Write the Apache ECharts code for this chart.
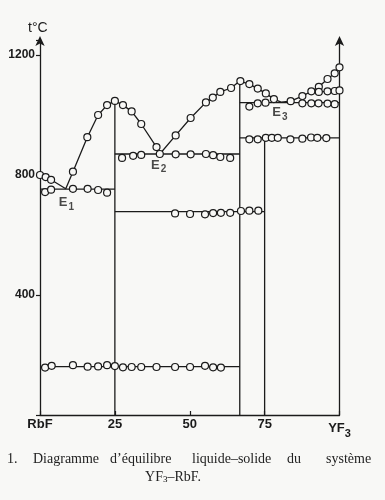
<!DOCTYPE html>
<html><head><meta charset="utf-8">
<script src="https://cdn.jsdelivr.net/npm/echarts@6/dist/echarts.min.js"></script>
<style>html,body{margin:0;padding:0;background:#f8f8f6}#c{width:385px;height:500px}</style>
</head><body><div id="c"></div>
<script>
// ---- data (x = mol % YF3, y = t °C) ----
const xTicks = [0, 25, 50, 75, 100];
const xTickLabels = ['RbF', '25', '50', '75', 'YF3'];
const yTickLabels = [400, 800, 1200];

// liquidus curve
const liquidusLine = [[0,800],[1.9,793],[3.7,784],[8.6,754],[11,811],[15.8,926],[19.4,1000],[22.4,1033],[25,1047],
  [27.7,1033],[30.6,1012],[33.8,970],[38.9,893],[40,870],[45.3,932],[50.3,990],[55.4,1042],[57.7,1058],[60.2,1077],
  [63.8,1090],[66.7,1113],[69.9,1103],[72.7,1088],[75.4,1072],[78.1,1053],[80.5,1043],[83.7,1046],[87.6,1063],
  [90.6,1079],[93.1,1094],[96,1120],[98.4,1139],[100,1159]];
const liquidusPts = [[0,800],[1.9,793],[3.7,784],[11,811],[15.8,926],[19.4,1000],[22.4,1033],[25,1047],[27.7,1033],
  [30.6,1012],[33.8,970],[38.9,893],[40,870],[45.3,932],[50.3,990],[55.4,1042],[57.7,1058],[60.2,1077],[63.8,1090],
  [66.9,1113],[69.9,1103],[72.7,1088],[75.4,1072],[78.1,1053],[83.7,1046],[87.6,1063],[90.6,1079],[93.1,1094],
  [96,1120],[98.4,1139],[100,1159]];
// upper branch near YF3
const branchLine = [[90.6,1079],[93.1,1077],[96,1079],[98.4,1080],[100,1082]];
const branchPts = [[93.1,1077],[96,1079],[98.4,1080],[100,1082]];

// horizontal isotherms: from x, to x, temperature
const isoFrom = [0, 25, 66.7, 66.7, 25, 0];
const isoTo   = [25, 66.7, 100, 100, 75, 66.7];
const isoT    = [753, 870, 1041, 924, 678, 161];
// vertical compound lines: x, top temperature
const vertX   = [25, 66.7, 75];
const vertTop = [1047, 1113, 924];

// thermal effects on isotherms
const pts753  = [[1.7,743],[3.7,751],[11,754],[15.9,754],[19.4,750],[22.4,741]];
const pts870  = [[27.4,857],[31.1,864],[33.8,867],[45.3,869],[50.3,869],[55.4,870],[57.8,866],[60.2,860],[63.5,857]];
const pts1041 = [[69.9,1028],[72.7,1039],[75.3,1041],[87.6,1039],[90.6,1039],[93,1039],[96,1038],[98.4,1036]];
const pts924  = [[69.9,919],[72.7,919],[75.4,924],[77.4,924],[79.4,924],[83.6,919],[87.6,921],[90.5,925],[92.6,924],[95.6,923]];
const pts678  = [[45.1,672],[50.1,670],[55.1,669],[57.8,673],[60.4,674],[63.5,674],[67.1,680],[69.9,681],[72.9,681]];
const pts161  = [[1.7,158],[3.9,164],[11,166],[15.9,161],[19.4,162],[22.4,166],[25,163],[27.7,159],[30.6,160],
  [33.8,160],[38.9,160],[45.1,160],[50.1,160],[55.1,164],[57.8,159],[60.4,158]];

// eutectic labels
const eutNames = ['1', '2', '3'];
const eutPos = [[8.8,707],[39.6,833],[80.1,1007]];

const captionWords = ['1.', 'Diagramme', 'd\u2019équilibre', 'liquide\u2013solide', 'du', 'système'];

// ---- chart ----
const INK = '#1b1b1b';
const BG = '#f8f8f6';
const lineStyle = {color: INK, width: 1.3};
const series = [];
series.push({type:'line', data: liquidusLine, symbol:'none', lineStyle, z:2, silent:true});
series.push({type:'line', data: branchLine, symbol:'none', lineStyle, z:2, silent:true});
isoT.forEach((t,i)=>series.push({type:'line', data:[[isoFrom[i],t],[isoTo[i],t]], symbol:'none', lineStyle, z:2}));
vertX.forEach((x,i)=>series.push({type:'line', data:[[x,0],[x,vertTop[i]]], symbol:'none', lineStyle, z:2}));
[liquidusPts, branchPts, pts753, pts870, pts1041, pts924, pts678, pts161].forEach(d=>series.push({
  type:'scatter', data:d, symbol:'circle', symbolSize:7, z:5,
  itemStyle:{color:BG, borderColor:INK, borderWidth:1.2, opacity:1}
}));
series.push({type:'scatter', data: eutPos.map((p,i)=>({value:p, name:eutNames[i]})), symbolSize:0, z:6,
  label:{show:true, position:'inside', formatter:p=>'{e|E}{s|'+p.name+'}',
    rich:{e:{fontFamily:'Liberation Sans', fontWeight:'bold', fontSize:13, color:INK},
          s:{fontFamily:'Liberation Sans', fontWeight:'bold', fontSize:10, color:INK, padding:[9,0,0,1]}}}});

const graphics = [{type:'text', left:28, top:21, style:{text:'t°C', font:'14px "Liberation Sans"', fill:INK}}];
const capX = [7, 33, 110, 192, 287, 326];
captionWords.forEach((w,i)=>graphics.push({type:'text', x:capX[i], y:466,
  style:{text:w, font:'14px "Liberation Serif"', fill:'#222', textVerticalAlign:'bottom'}}));
graphics.push({type:'text', x:173, y:484, style:{
  text:'{n|YF}{s|3}{n|\u2013RbF.}', textAlign:'center', textVerticalAlign:'bottom',
  rich:{n:{font:'14px "Liberation Serif"', fill:'#222', fontSize:14, fontFamily:'Liberation Serif', color:'#222'},
        s:{fontSize:9, fontFamily:'Liberation Serif', color:'#222', padding:[5,0,0,0]}}}});

const chart = echarts.init(document.getElementById('c'), null, {renderer:'canvas'});
chart.setOption({
  backgroundColor: BG,
  animation:false,
  grid:{left:40, right:45.5, top:40, bottom:85},
  xAxis:{type:'value', min:0, max:100, interval:25,
    axisLine:{lineStyle:{color:INK, width:1.3}},
    axisTick:{show:true, inside:true, length:4, lineStyle:{color:INK, width:1.2}},
    splitLine:{show:false},
    axisLabel:{margin:3, color:INK, fontFamily:'Liberation Sans', fontWeight:'bold', fontSize:13,
      formatter:v=>{const i=xTicks.indexOf(v); if(i<0) return ''; const s=xTickLabels[i];
        return s==='YF3' ? '{a|YF}{s|3}' : s;},
      rich:{a:{fontFamily:'Liberation Sans', fontWeight:'bold', fontSize:13, color:INK},
            s:{fontFamily:'Liberation Sans', fontWeight:'bold', fontSize:11, color:INK, padding:[10,0,0,0]}}}},
  yAxis:[{type:'value', min:0, max:1250, interval:400,
    axisLine:{show:true, symbol:['none','arrow'], symbolSize:[7,10], symbolOffset:[0,4], lineStyle:{color:INK, width:1.3}},
    axisTick:{show:true, length:4, lineStyle:{color:INK, width:1.2}},
    splitLine:{show:false},
    axisLabel:{margin:5, color:INK, fontFamily:'Liberation Sans', fontWeight:'bold', fontSize:12,
      formatter:v=>yTickLabels.indexOf(v)>=0 ? String(v) : ''}},
   {type:'value', position:'right', min:0, max:1235,
    axisLine:{show:true, symbol:['none','arrow'], symbolSize:[7,10], symbolOffset:[0,4], lineStyle:{color:INK, width:1.3}},
    axisTick:{show:false}, axisLabel:{show:false}, splitLine:{show:false}}],
  series,
  graphic: graphics
});
</script></body></html>
